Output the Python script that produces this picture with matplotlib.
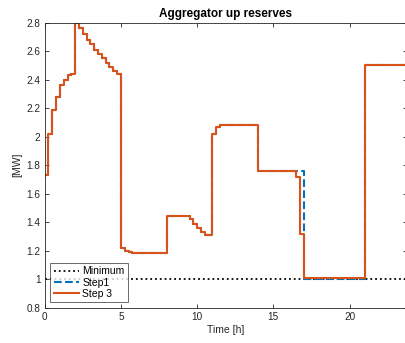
import numpy as np
import matplotlib
matplotlib.use('Agg')
import matplotlib.pyplot as plt

plt.rcParams['font.family'] = ['Liberation Sans', 'DejaVu Sans']

# breakpoints of the 15-min step profiles (value holds until next time)
step3_t = [0, 0.25, 0.5, 0.75, 1.0, 1.25, 1.5, 1.75, 2.0, 2.25, 2.5, 2.75, 3.0,
           3.25, 3.5, 3.75, 4.0, 4.25, 4.5, 4.75, 5.0, 5.25, 5.5, 5.75, 8.0,
           9.5, 9.75, 10.0, 10.25, 10.5, 11.0, 11.25, 11.5, 14.0, 16.5, 16.75,
           17.0, 21.0, 23.75]
step3_v = [1.73, 2.02, 2.19, 2.28, 2.36, 2.40, 2.43, 2.44, 2.80, 2.76, 2.72, 2.68, 2.65,
           2.61, 2.58, 2.55, 2.52, 2.49, 2.46, 2.44, 1.22, 1.20, 1.19, 1.185, 1.445,
           1.42, 1.39, 1.36, 1.33, 1.31, 2.02, 2.07, 2.08, 1.76, 1.72, 1.32,
           1.005, 2.50, 2.50]

step1_t = step3_t
step1_v = [1.73, 2.02, 2.19, 2.28, 2.36, 2.40, 2.43, 2.44, 2.80, 2.76, 2.72, 2.68, 2.65,
           2.61, 2.58, 2.55, 2.52, 2.49, 2.46, 2.44, 1.22, 1.20, 1.19, 1.185, 1.445,
           1.42, 1.39, 1.36, 1.33, 1.31, 2.02, 2.07, 2.08, 1.76, 1.76, 1.76,
           1.0, 2.50, 2.50]

min_t = [0, 23.75]
min_v = [1.0, 1.0]

blue = '#0072BD'
orange = '#D95319'

fig = plt.figure(figsize=(4.06, 3.43), dpi=100)
ax = fig.add_axes([0.110, 0.103, 0.892, 0.831])

ax.plot(min_t, min_v, ':', color='black', lw=1.3, label='Minimum')
ax.step(step1_t, step1_v, where='post', color=blue, ls='--', lw=1.5, label='Step1')
ax.step(step3_t, step3_v, where='post', color=orange, lw=1.5, label='Step 3')

ax.set_xlim(0, 23.75)
ax.set_ylim(0.8, 2.8)
ax.set_xticks([0, 5, 10, 15, 20])
ax.set_yticks(np.arange(0.8, 2.81, 0.2))
ax.set_yticklabels(['0.8', '1', '1.2', '1.4', '1.6', '1.8', '2', '2.2', '2.4', '2.6', '2.8'])
ax.tick_params(direction='in', length=3, labelsize=7.2, top=True, right=True,
               color='#262626', labelcolor='#262626', width=0.6, pad=3)
for s in ax.spines.values():
    s.set_linewidth(0.6)
    s.set_color('#262626')

ax.set_title('Aggregator up reserves', fontsize=8.5, fontweight='bold', pad=4)
ax.set_xlabel('Time [h]', fontsize=7.5, color='#262626', labelpad=2)
ax.set_ylabel('[MW]', fontsize=7.5, color='#262626', labelpad=3)

leg = ax.legend(loc='lower left', fontsize=7.5, frameon=True, fancybox=False,
                edgecolor='#262626', borderpad=0.3, labelspacing=0.12,
                handlelength=2.4, handletextpad=0.35, borderaxespad=0.55)
leg.get_frame().set_linewidth(0.6)

fig.savefig('out.png', dpi=100)
